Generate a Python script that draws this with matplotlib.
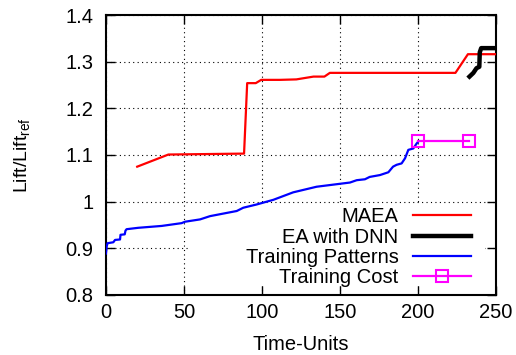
import matplotlib
matplotlib.use('Agg')
import matplotlib.pyplot as plt
from matplotlib.patches import Rectangle
from matplotlib.ticker import FuncFormatter

plt.rcParams['font.family'] = ['Liberation Sans', 'DejaVu Sans']
plt.rcParams['mathtext.fontset'] = 'custom'
plt.rcParams['mathtext.rm'] = 'Liberation Sans'
plt.rcParams['mathtext.it'] = 'Liberation Sans'

# values
maea_x = [20, 40, 88.5, 90.5, 96, 99.5, 111.5, 122, 133, 140, 143.5, 224, 232, 250]
maea_y = [1.075, 1.101, 1.103, 1.254, 1.254, 1.261, 1.261, 1.262, 1.268, 1.268,
          1.276, 1.276, 1.316, 1.316]

dnn_x = [233, 235.5, 237.5, 239.3, 239.6, 240.5, 250]
dnn_y = [1.268, 1.276, 1.286, 1.289, 1.320, 1.329, 1.329]

pat_x = [0, 0.5, 1, 4.7, 5.8, 9, 9.3, 12, 12.5, 13.2, 20.7, 35.7, 48.5, 50.6, 60.3,
         66.7, 83.8, 88, 96.6, 107.3, 120, 135, 156.4, 160.7, 166, 169, 175.6, 181,
         184, 186.3, 189.5, 191.7, 193.8, 197, 199, 200]
pat_y = [0.889, 0.905, 0.911, 0.913, 0.918, 0.919, 0.929, 0.930, 0.938, 0.941,
         0.944, 0.948, 0.954, 0.957, 0.962, 0.969, 0.980, 0.987, 0.994, 1.004,
         1.020, 1.032, 1.041, 1.046, 1.048, 1.053, 1.057, 1.063, 1.075, 1.079,
         1.082, 1.093, 1.111, 1.114, 1.124, 1.128]

cost_x = [200, 233]
cost_y = [1.13, 1.13]

xticks = [0, 50, 100, 150, 200, 250]
yticks = [0.8, 0.9, 1.0, 1.1, 1.2, 1.3, 1.4]

fs = 14.5
fig = plt.figure(figsize=(5.16, 3.55), dpi=100)
ax = fig.add_axes([106 / 516, 1 - 295 / 355, 390 / 516, 280 / 355])

ax.plot(maea_x, maea_y, color='#ff0000', lw=1.6, label='MAEA', zorder=3)
ax.plot(dnn_x, dnn_y, color='black', lw=3.2, label='EA with DNN', zorder=4)
ax.plot(pat_x, pat_y, color='#0000ff', lw=1.6, label='Training Patterns', zorder=3)
ax.plot(cost_x, cost_y, color='#ff00ff', lw=1.6, marker='s', ms=8,
        mfc='none', mew=1.5, label='Training Cost', zorder=3)

ax.set_xlim(0, 250)
ax.set_ylim(0.8, 1.4)
ax.set_xticks(xticks)
ax.set_yticks(yticks)
ax.yaxis.set_major_formatter(FuncFormatter(lambda v, p: '%g' % round(v, 2)))
ax.tick_params(direction='in', length=6.5, width=1, top=True, right=True,
               labelsize=fs, colors='black')
ax.tick_params(axis='x', pad=6)
ax.tick_params(axis='y', pad=9)
for s in ax.spines.values():
    s.set_linewidth(1.5)

ax.set_axisbelow(True)
ax.grid(True, color='black', lw=0.8, linestyle=(0, (1, 3)))

# opaque key box like gnuplot
ax.add_patch(Rectangle((0.215, 0.032), 0.757, 0.293, transform=ax.transAxes,
                       facecolor='white', edgecolor='none', zorder=1))

leg = ax.legend(loc='lower right', bbox_to_anchor=(471 / 516, 1 - 287 / 355),
                bbox_transform=fig.transFigure, frameon=False, markerfirst=False,
                fontsize=fs, handlelength=2.9, handletextpad=0.7,
                labelspacing=0.06, borderpad=0, borderaxespad=0, numpoints=1)
leg.set_zorder(5)

ax.set_xlabel('Time-Units', fontsize=fs, labelpad=9)
ax.set_ylabel(r'Lift/Lift$_{\rm ref}$', fontsize=14, labelpad=24)

fig.savefig('out.png', dpi=100)
